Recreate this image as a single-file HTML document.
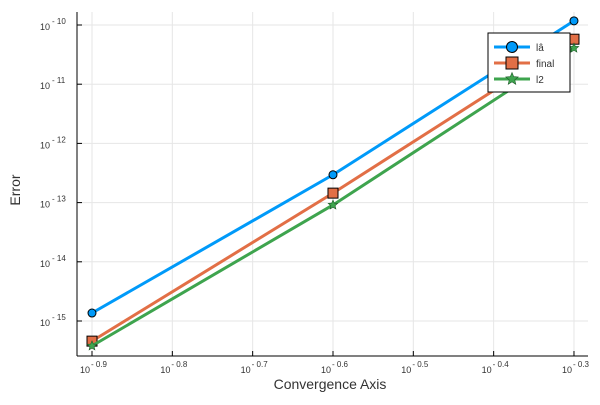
<!DOCTYPE html>
<html><head><meta charset="utf-8"><style>
body{margin:0;background:#fff;}
svg{font-family:"Liberation Sans","DejaVu Sans",sans-serif;}
</style></head><body>
<svg id="chart" width="600" height="400"></svg>
<script>
const xTicks=[-0.9,-0.8,-0.7,-0.6,-0.5,-0.4,-0.3];
const yTicks=[-15,-14,-13,-12,-11,-10];
const xLog=[-0.9,-0.6,-0.3];
const seriesNames=["lâ","final","l2"];
const yLa=[-14.865,-12.53,-9.93];
const yFinal=[-15.34,-12.84,-10.24];
const yL2=[-15.42,-13.04,-10.39];
const colors=["#009af9","#e26f46","#3ea44e"];
const NS="http://www.w3.org/2000/svg";
const svg=document.getElementById('chart');
const L=77,R=588,T=12,B=356;
function X(v){return 92+(v+0.9)*803.3;}
function Y(v){return 321-(v+15)*59.2;}
function mk(t,a,p){const e=document.createElementNS(NS,t);for(const k in a)e.setAttribute(k,a[k]);(p||svg).appendChild(e);return e;}
const grid=mk('g',{});


xTicks.forEach(v=>{mk('line',{x1:X(v),x2:X(v),y1:T,y2:B,stroke:'#e6e6e6','stroke-width':1},grid);});
yTicks.forEach(v=>{mk('line',{x1:L,x2:R,y1:Y(v),y2:Y(v),stroke:'#e6e6e6','stroke-width':1},grid);});
const ax=mk('g',{});


mk('line',{x1:L,x2:L,y1:T,y2:B,stroke:'#000','stroke-width':1},ax);
mk('line',{x1:L,x2:R,y1:B,y2:B,stroke:'#000','stroke-width':1},ax);
xTicks.forEach(v=>{
  mk('line',{x1:X(v),x2:X(v),y1:B,y2:B-5,stroke:'#000'},ax);
  const t=mk('text',{x:X(v)-2,y:373,'font-size':9,fill:'#333','text-anchor':'end'},ax);t.textContent='10';
  const s=mk('text',{x:X(v)-1,y:367,'font-size':8,fill:'#333'},ax);s.textContent='- '+Math.abs(v).toFixed(1);
  
  
});
yTicks.forEach(v=>{
  mk('line',{x1:L,x2:L+5,y1:Y(v),y2:Y(v),stroke:'#000'},ax);
  const t=mk('text',{x:50,y:Y(v)+5,'font-size':9,fill:'#333','text-anchor':'end'},ax);t.textContent='10';
  const s=mk('text',{x:52,y:Y(v)-1,'font-size':8,fill:'#333'},ax);s.textContent='- '+Math.abs(v);
  
  
});
const xt=mk('text',{x:330,y:389,'font-size':14,fill:'#333','text-anchor':'middle'});xt.textContent='Convergence Axis';


const yt=mk('text',{x:20,y:190,'font-size':14,fill:'#333','text-anchor':'middle',transform:'rotate(-90 20 190)'});yt.textContent='Error';


function star(cx,cy,r,p){let pts=[];for(let i=0;i<10;i++){const a=-Math.PI/2+i*Math.PI/5,rr=i%2?r*0.45:r;pts.push((cx+rr*Math.cos(a)).toFixed(1)+','+(cy+rr*Math.sin(a)).toFixed(1));}return mk('polygon',{points:pts.join(' '),fill:colors[2],stroke:'#1d5a28','stroke-width':0.6},p);}
function marker(k,cx,cy,p,sz){
  if(k===0)return mk('circle',{cx,cy,r:sz||4,fill:colors[0],stroke:'#000','stroke-width':1},p);
  if(k===1){const s=sz||5;return mk('rect',{x:cx-s,y:cy-s,width:2*s,height:2*s,fill:colors[1],stroke:'#000','stroke-width':1},p);}
  return star(cx,cy,sz||5,p);
}
[yLa,yFinal,yL2].forEach((ys,k)=>{
  const g=mk('g',{});
  
  
  mk('polyline',{points:xLog.map((x,i)=>X(x)+','+Y(ys[i])).join(' '),fill:'none',stroke:colors[k],'stroke-width':3},g);
  xLog.forEach((x,i)=>{const m=marker(k,X(x),Y(ys[i]),g);
    
    });
});
const lg=mk('g',{});


mk('rect',{x:488,y:33,width:82,height:59,fill:'#fff',stroke:'#000','stroke-width':1},lg);
seriesNames.forEach((n,k)=>{
  const y=47+k*16;
  const e=mk('g',{},lg);
  
  
  mk('line',{x1:494,x2:530,y1:y,y2:y,stroke:colors[k],'stroke-width':3},e);
  marker(k,512,y,e,k===0?5.5:(k===1?6:6.5));
  const t=mk('text',{x:536,y:y+4,'font-size':10,fill:'#333'},e);t.textContent=n;
});
</script>
</body></html>
